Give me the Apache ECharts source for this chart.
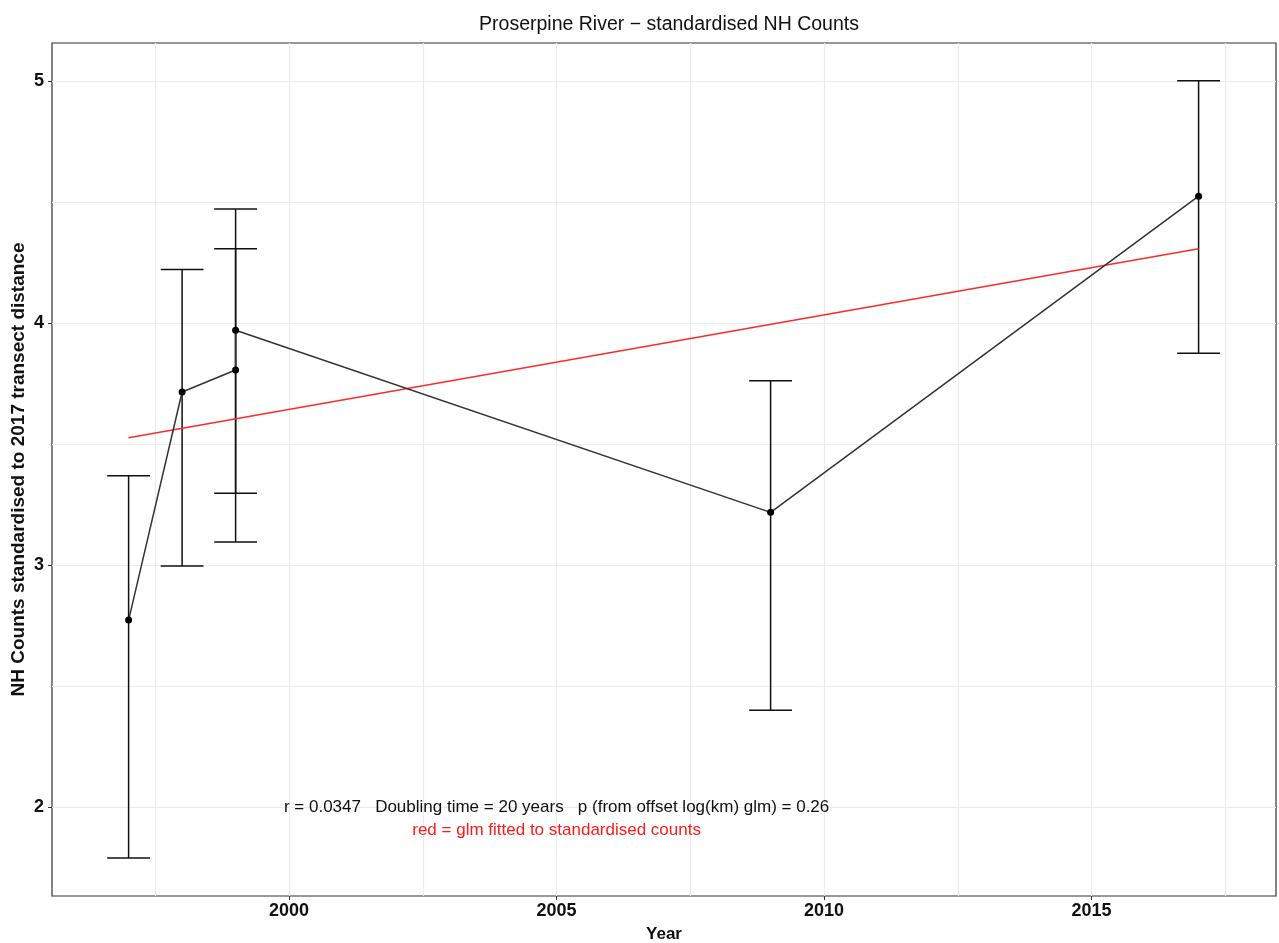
<!DOCTYPE html>
<html>
<head>
<meta charset="utf-8">
<script src="https://cdn.jsdelivr.net/npm/echarts@6/dist/echarts.min.js"></script>
<style>
  html, body { margin: 0; padding: 0; background: #fff; }
  #nh-chart { width: 1279px; height: 943px; }
</style>
</head>
<body>
<div id="nh-chart"></div>
<script>
// survey years and standardised counts (1999 has two surveys)
const years = [1997, 1998, 1999, 1999, 2009, 2017]
const counts = [2.772, 3.714, 3.805, 3.969, 3.217, 4.523]
const lower = [1.789, 2.995, 3.094, 3.296, 2.399, 3.874]
const upper = [3.368, 4.220, 4.306, 4.470, 3.761, 5.0]
// glm fit (red)
const fitYears = [1997, 2017]
const fitValues = [3.525, 4.306]
// axis ticks / grid
const xTicks = [2000, 2005, 2010, 2015]
const yTicks = [2, 3, 4, 5]
const xMinor = [1997.5, 2002.5, 2007.5, 2012.5, 2017.5]
const yMinor = [2.5, 3.5, 4.5]
const statsText = 'r = 0.0347   Doubling time = 20 years   p (from offset log(km) glm) = 0.26'
const fitText = 'red = glm fitted to standardised counts'

const font = "'Liberation Sans', Arial, sans-serif"
const chart = echarts.init(document.getElementById('nh-chart'))

const gridLines = []
xTicks.concat(xMinor).forEach(v => gridLines.push({ xAxis: v }))
yTicks.concat(yMinor).forEach(v => gridLines.push({ yAxis: v }))

const barStyle = { stroke: '#111', lineWidth: 1.5 }

chart.setOption({
  animation: false,
  title: {
    text: 'Proserpine River \u2212 standardised NH Counts',
    left: 664,
    top: 10,
    textAlign: 'center',
    textStyle: { fontFamily: font, fontSize: 19.5, fontWeight: 'normal', color: '#111' }
  },
  grid: {
    left: 52, right: 3, top: 43, bottom: 47,
    outerBoundsMode: 'none',
    containLabel: false,
    show: true, borderColor: '#333', borderWidth: 1.2, backgroundColor: '#fff'
  },
  xAxis: {
    type: 'value',
    min: 1995.568,
    max: 2018.447,
    name: 'Year',
    nameLocation: 'middle',
    nameGap: 30,
    nameMoveOverlap: false,
    nameTextStyle: { fontFamily: font, fontSize: 17, fontWeight: 'bold', color: '#111' },
    axisLine: { show: false },
    axisTick: { show: true, customValues: xTicks, length: 4, lineStyle: { color: '#333' } },
    axisLabel: {
      customValues: xTicks, margin: 6,
      formatter: v => String(v),
      fontFamily: font, fontSize: 18, fontWeight: 'bold', color: '#111'
    },
    splitLine: { show: false }
  },
  yAxis: {
    type: 'value',
    min: 1.632,
    max: 5.156,
    name: 'NH Counts standardised to 2017 transect distance',
    nameLocation: 'middle',
    nameGap: 24,
    nameMoveOverlap: false,
    nameTextStyle: { fontFamily: font, fontSize: 19, fontWeight: 'bold', color: '#111' },
    axisLine: { show: false },
    axisTick: { show: true, customValues: yTicks, length: 4, lineStyle: { color: '#333' } },
    axisLabel: {
      customValues: yTicks, margin: 8,
      fontFamily: font, fontSize: 18, fontWeight: 'bold', color: '#111'
    },
    splitLine: { show: false }
  },
  series: [
    {
      // background grid lines
      type: 'line',
      data: [],
      z: 0,
      silent: true,
      markLine: {
        z: 1,
        silent: true,
        symbol: ['none', 'none'],
        label: { show: false },
        lineStyle: { color: '#ebebeb', type: 'solid', width: 1.2 },
        emphasis: { disabled: true },
        data: gridLines
      }
    },
    {
      name: 'error bars',
      type: 'custom',
      z: 3,
      data: years.map((y, i) => [y, lower[i], upper[i]]),
      renderItem(params, api) {
        const x = api.value(0)
        const top = api.coord([x, api.value(2)])
        const bot = api.coord([x, api.value(1)])
        const hw = api.size([0.4, 0])[0]
        return {
          type: 'group',
          children: [
            { type: 'line', shape: { x1: top[0], y1: top[1], x2: bot[0], y2: bot[1] }, style: barStyle },
            { type: 'line', shape: { x1: top[0] - hw, y1: top[1], x2: top[0] + hw, y2: top[1] }, style: barStyle },
            { type: 'line', shape: { x1: bot[0] - hw, y1: bot[1], x2: bot[0] + hw, y2: bot[1] }, style: barStyle }
          ]
        }
      }
    },
    {
      name: 'glm',
      type: 'line',
      z: 4,
      data: fitYears.map((y, i) => [y, fitValues[i]]),
      symbol: 'none',
      lineStyle: { color: '#ff2a2a', width: 1.6 }
    },
    {
      name: 'counts',
      type: 'line',
      z: 5,
      data: years.map((y, i) => [y, counts[i]]),
      symbol: 'circle',
      symbolSize: 7,
      itemStyle: { color: '#000' },
      lineStyle: { color: '#333', width: 1.5 }
    },
    {
      name: 'notes',
      type: 'custom',
      z: 6,
      silent: true,
      data: [[2005, 2.0, 0], [2005, 1.905, 1]],
      renderItem(params, api) {
        const p = api.coord([api.value(0), api.value(1)])
        const isFit = api.value(2) === 1
        return {
          type: 'text',
          x: p[0],
          y: p[1],
          style: {
            text: isFit ? fitText : statsText,
            fill: isFit ? '#ff1a1a' : '#111',
            font: '17px ' + font,
            align: 'center',
            verticalAlign: 'middle'
          }
        }
      }
    }
  ]
})
</script>
</body>
</html>
